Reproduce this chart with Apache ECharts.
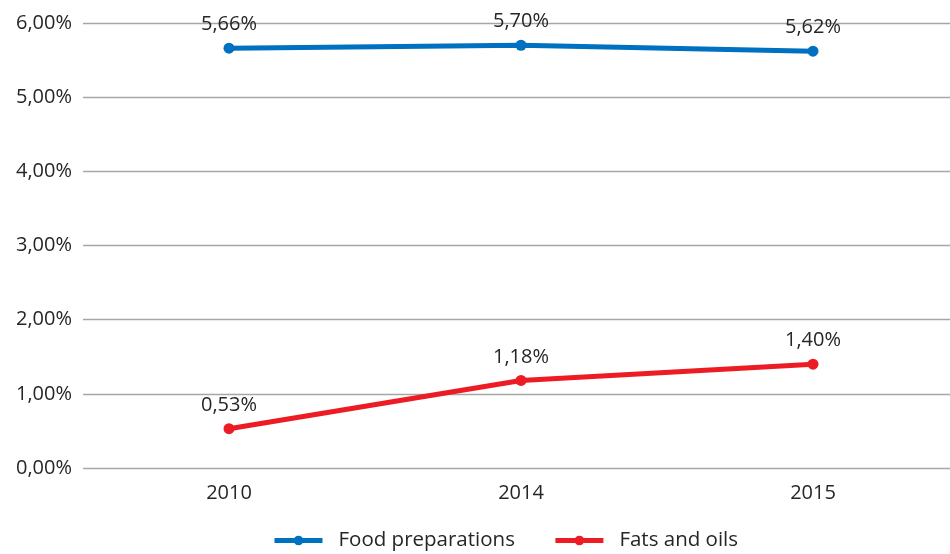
<!DOCTYPE html>
<html>
<head>
<meta charset="utf-8">
<script src="https://cdn.jsdelivr.net/npm/echarts@6/dist/echarts.min.js"></script>
<style>
  html, body { margin: 0; padding: 0; background: #fff; }
  #chart { width: 950px; height: 554px; }
</style>
</head>
<body>
<div id="chart"></div>
<script>
  var years = ['2010', '2014', '2015'];
  var foodPreparations = [5.66, 5.70, 5.62];
  var fatsAndOils = [0.53, 1.18, 1.40];

  function pct(v) {
    return v.toFixed(2).replace('.', ',') + '%';
  }

  var chart = echarts.init(document.getElementById('chart'));
  var font = 'Open Sans';

  var option = {
    animation: false,
    textStyle: { fontFamily: font },
    grid: { left: 83, top: 23, bottom: 86, width: 876, outerBoundsMode: 'none' },
    xAxis: {
      type: 'category',
      data: years,
      boundaryGap: true,
      axisLine: { show: false },
      axisTick: { show: false },
      axisLabel: { color: '#262626', fontSize: 20, margin: 15, fontFamily: font }
    },
    yAxis: {
      type: 'value',
      min: 0,
      max: 6,
      interval: 1,
      axisLine: { show: false },
      axisTick: { show: false },
      splitLine: { lineStyle: { color: '#a6a6a6', width: 1.3 } },
      axisLabel: {
        color: '#262626', fontSize: 20, margin: 11, fontFamily: font,
        formatter: function (v) { return pct(v); }
      }
    },
    legend: {
      bottom: -2,
      left: 267,
      itemWidth: 48,
      itemHeight: 12,
      itemGap: 38,
      lineStyle: { width: 5 },
      textStyle: { color: '#262626', fontSize: 20.5, fontFamily: font, padding: [0, 0, 0, 11] },
      data: ['Food preparations', 'Fats and oils']
    },
    series: [
      {
        name: 'Food preparations',
        type: 'line',
        data: foodPreparations,
        color: '#0070c0',
        symbol: 'circle',
        symbolSize: 11,
        lineStyle: { width: 5 },
        label: {
          show: true, position: 'top', distance: 8,
          color: '#262626', fontSize: 20, fontFamily: font,
          formatter: function (p) { return pct(p.value); }
        }
      },
      {
        name: 'Fats and oils',
        type: 'line',
        data: fatsAndOils,
        color: '#ed1c24',
        symbol: 'circle',
        symbolSize: 11,
        lineStyle: { width: 5 },
        label: {
          show: true, position: 'top', distance: 8,
          color: '#262626', fontSize: 20, fontFamily: font,
          formatter: function (p) { return pct(p.value); }
        }
      }
    ]
  };

  chart.setOption(option);
</script>
</body>
</html>
